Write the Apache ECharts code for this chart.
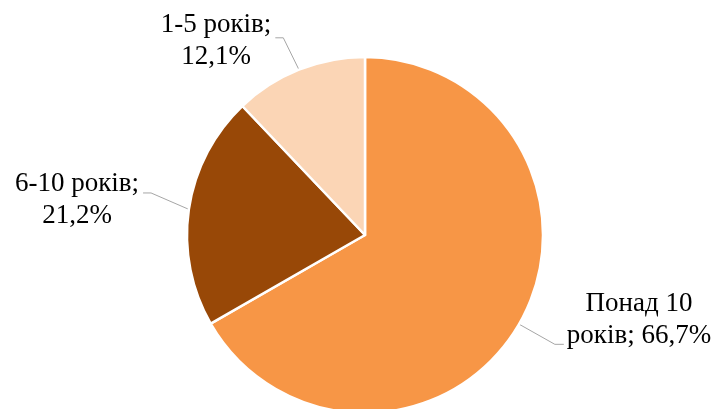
<!DOCTYPE html>
<html>
<head>
<meta charset="utf-8">
<script src="https://cdn.jsdelivr.net/npm/echarts@6/dist/echarts.min.js"></script>
<style>
  html, body { margin: 0; padding: 0; background: #fff; }
  #chart { width: 717px; height: 409px; }
</style>
</head>
<body>
<div id="chart"></div>
<script>
// дані
const categories = ['Понад 10 років', '6-10 років', '1-5 років'];
const shares = [66.7, 21.2, 12.1];
const colors = ['#F79646', '#984807', '#FBD5B5'];

// розміщення підписів (центр блоку тексту) та висота точки виноски у блоці
const labelCenters = [[639, 320], [77, 200], [216, 41]];
const lineEndFrac = [0.88, 0.39, 0.45];

const chart = echarts.init(document.getElementById('chart'));

const fmtPct = v => v.toFixed(1).replace('.', ',') + '%';

const option = {
  backgroundColor: '#fff',
  animation: false,
  series: [{
    type: 'pie',
    center: [365, 235],
    radius: 178,
    startAngle: 90,
    clockwise: true,
    itemStyle: { borderColor: '#fff', borderWidth: 2.5 },
    label: {
      show: true,
      position: 'outside',
      fontFamily: 'Liberation Serif',
      fontSize: 27,
      lineHeight: 32,
      color: '#000',
      formatter: function (p) {
        const words = p.name.split(' ');
        const pct = fmtPct(p.value);
        if (words.length > 2) {
          return words.slice(0, 2).join(' ') + '\n' + words.slice(2).join(' ') + '; ' + pct;
        }
        return p.name + ';\n' + pct;
      }
    },
    labelLine: {
      show: true,
      length: 20,
      length2: 10,
      lineStyle: { color: '#A6A6A6', width: 1 }
    },
    labelLayout: function (params) {
      const i = params.dataIndex;
      const c = labelCenters[i];
      const w = params.labelRect.width;
      const h = params.labelRect.height;
      const left = c[0] - w / 2;
      const top = c[1] - h / 2;
      const onRight = c[0] > 365;
      const ex = onRight ? left - 3 : left + w + 4;
      const ey = top + h * lineEndFrac[i];
      const bx = onRight ? ex - 9 : ex + 8;
      const start = params.labelLinePoints ? params.labelLinePoints[0] : [bx, ey];
      return {
        x: c[0],
        y: c[1],
        align: 'center',
        verticalAlign: 'middle',
        labelLinePoints: [start, [bx, ey], [ex, ey]]
      };
    },
    data: categories.map((name, i) => ({
      name: name,
      value: shares[i],
      itemStyle: { color: colors[i] }
    }))
  }]
};

chart.setOption(option);
</script>
</body>
</html>
